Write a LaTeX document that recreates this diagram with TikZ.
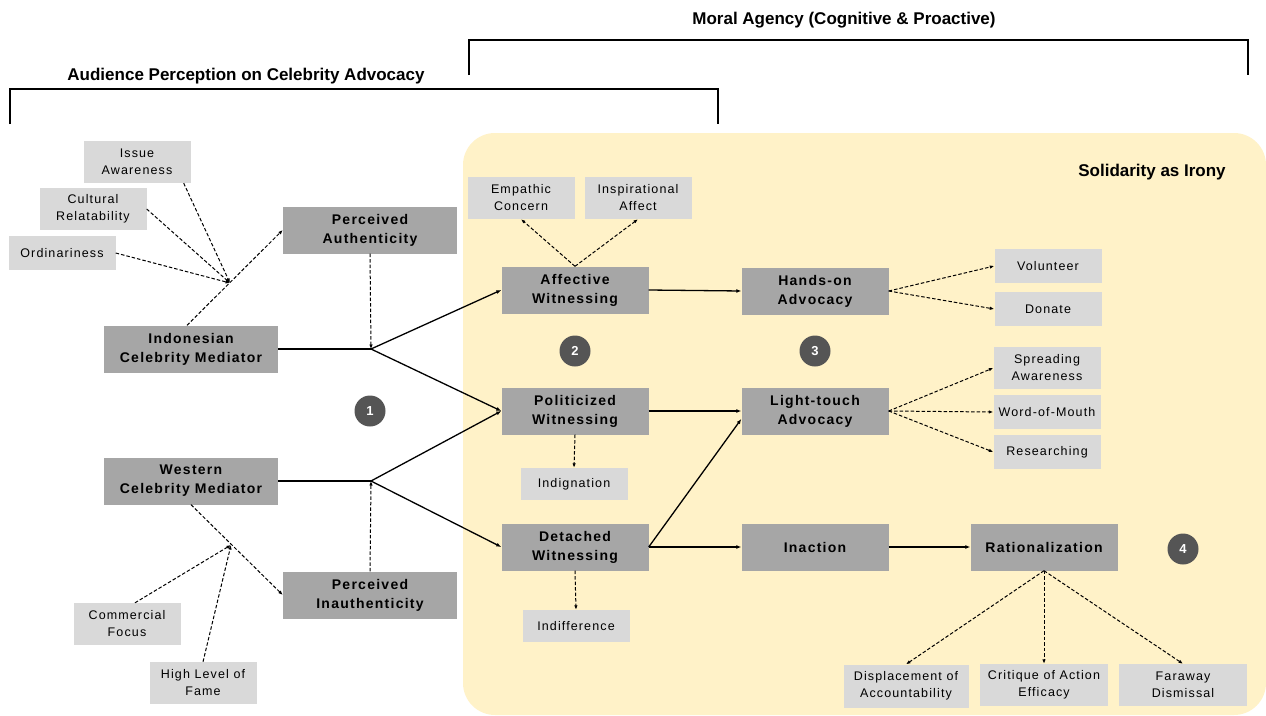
\documentclass[tikz,border=0pt]{standalone}
\usepackage{fontspec}
\setmainfont{Liberation Sans}
\newfontfamily\spacedfont[LetterSpace=9]{Liberation Sans}
\usetikzlibrary{arrows.meta}
\definecolor{darkgrey}{HTML}{A6A6A6}
\definecolor{lightgrey}{HTML}{D9D9D9}
\definecolor{irony}{HTML}{FFF2C8}
\definecolor{badge}{HTML}{555555}

\begin{document}
\begin{tikzpicture}[x=1pt, y=-1pt,
	concept/.style={fill=darkgrey, minimum width=147pt, minimum height=47pt, inner sep=0pt, align=center, font=\spacedfont\bfseries\fontsize{14}{19}\selectfont},
	factor/.style={fill=lightgrey, minimum width=107pt, minimum height=34pt, inner sep=0pt, align=center, font=\spacedfont\fontsize{12.5}{17}\selectfont},
	stage/.style={circle, fill=badge, minimum size=31pt, inner sep=0pt, text=white, font=\bfseries\fontsize{13}{15}\selectfont},
	heading/.style={font=\bfseries\fontsize{17}{20}\selectfont},
	plain/.style={line width=1.3pt},
	link/.style={line width=1.3pt, -{Latex[length=5pt,width=4pt]}},
	cue/.style={line width=1pt, dash pattern=on 3.5pt off 2pt, -{Latex[length=4.5pt,width=3.5pt]}}]
	\useasboundingbox (0,0) rectangle (1266,715);
	\fill[white] (0,0) rectangle (1266,715);
	\fill[irony, rounded corners=32pt] (463,133) rectangle (1266,715);
	% brackets and headings
	\draw[plain] (469,75) -- (469,40) -- (1248,40) -- (1248,75);
	\draw[plain] (10,124) -- (10,89) -- (718,89) -- (718,124);
	\node[heading] (moral) at (844,20) {Moral Agency (Cognitive \& Proactive)};
	\node[heading] (audience) at (246,76) {Audience Perception on Celebrity Advocacy};
	\node[heading] (irony) at (1152,172) {Solidarity as Irony};
	% main concepts
	\node[concept, minimum width=174pt] (pa) at (370,230) {Perceived\\Authenticity};
	\node[concept, minimum width=174pt] (ind) at (191,349) {Indonesian\\Celebrity Mediator};
	\node[concept, minimum width=174pt] (wes) at (191,481) {Western\\Celebrity Mediator};
	\node[concept, minimum width=174pt] (pi) at (370,595) {Perceived\\Inauthenticity};
	\node[concept] (aw) at (575,290) {Affective\\Witnessing};
	\node[concept] (pw) at (575,411) {Politicized\\Witnessing};
	\node[concept] (dw) at (575,547) {Detached\\Witnessing};
	\node[concept] (ha) at (815,291) {Hands-on\\Advocacy};
	\node[concept] (lt) at (815,411) {Light-touch\\Advocacy};
	\node[concept] (ina) at (815,547) {Inaction};
	\node[concept] (rat) at (1044,547) {Rationalization};
	% factors
	\node[factor, minimum height=42pt] (iss) at (137,162) {Issue\\Awareness};
	\node[factor, minimum height=42pt] (cul) at (93,209) {Cultural\\Relatability};
	\node[factor] (ord) at (62,253) {Ordinariness};
	\node[factor, minimum height=42pt] (com) at (127,624) {Commercial\\Focus};
	\node[factor, minimum height=42pt] (fam) at (203,683) {High Level of\\Fame};
	\node[factor, minimum height=42pt] (emp) at (521,198) {Empathic\\Concern};
	\node[factor, minimum height=42pt] (ins) at (638,198) {Inspirational\\Affect};
	\node[factor, minimum height=32pt] (ign) at (574,484) {Indignation};
	\node[factor, minimum height=32pt] (idf) at (576,626) {Indifference};
	\node[factor] (vol) at (1048,266) {Volunteer};
	\node[factor] (don) at (1048,309) {Donate};
	\node[factor, minimum height=42pt] (spr) at (1047,368) {Spreading\\Awareness};
	\node[factor] (wom) at (1047,412) {Word-of-Mouth};
	\node[factor] (res) at (1047,452) {Researching};
	\node[factor, minimum width=125pt, minimum height=43pt] (dis) at (906,686) {Displacement of\\Accountability};
	\node[factor, minimum width=128pt, minimum height=42pt] (cri) at (1044,685) {Critique of Action\\Efficacy};
	\node[factor, minimum width=128pt, minimum height=42pt] (far) at (1183,685) {Faraway\\Dismissal};
	% stages
	\node[stage] (s1) at (370,411) {1};
	\node[stage] (s2) at (575,351) {2};
	\node[stage] (s3) at (815,351) {3};
	\node[stage] (s4) at (1183,549) {4};
	% junctions
	\coordinate (jI) at (371,349);
	\coordinate (jW) at (371,481);
	\coordinate (jA) at (230,283);
	\coordinate (jB) at (231,545);
	% perception
	\draw[cue] ([xshift=-4pt]ind.north) -- (pa.west);
	\draw[cue] ([xshift=-7pt]iss.south east) -- (jA);
	\draw[cue] (cul.east) -- (jA);
	\draw[cue] (ord.east) -- (jA);
	\draw[cue] (wes.south) -- (pi.west);
	\draw[cue] ([xshift=8pt]com.north) -- (jB);
	\draw[cue] (fam.north) -- (jB);
	\draw[cue] (pa.south) -- (jI);
	\draw[cue] (pi.north) -- (jW);
	\draw[plain] (ind.east) -- (jI);
	\draw[link] (jI) -- (aw.west);
	\draw[link] (jI) -- (pw.west);
	\draw[plain] (wes.east) -- (jW);
	\draw[link] (jW) -- (pw.west);
	\draw[link] (jW) -- (dw.west);
	% witnessing and agency
	\draw[cue] (aw.north) -- (emp.south);
	\draw[cue] (aw.north) -- (ins.south);
	\draw[cue] (pw.south) -- (ign.north);
	\draw[cue] (dw.south) -- (idf.north);
	\draw[link] (aw.east) -- (ha.west);
	\draw[link] (pw.east) -- (lt.west);
	\draw[link] (dw.east) -- ([yshift=-8pt]lt.west);
	\draw[link] (dw.east) -- (ina.west);
	\draw[link] (ina.east) -- (rat.west);
	\foreach \t in {vol, don}
		\draw[cue] (ha.east) -- (\t.west);
	\foreach \t in {spr, wom, res}
		\draw[cue] (lt.east) -- (\t.west);
	\foreach \t in {dis, cri, far}
		\draw[cue] (rat.south) -- (\t.north);
\end{tikzpicture}
\end{document}
